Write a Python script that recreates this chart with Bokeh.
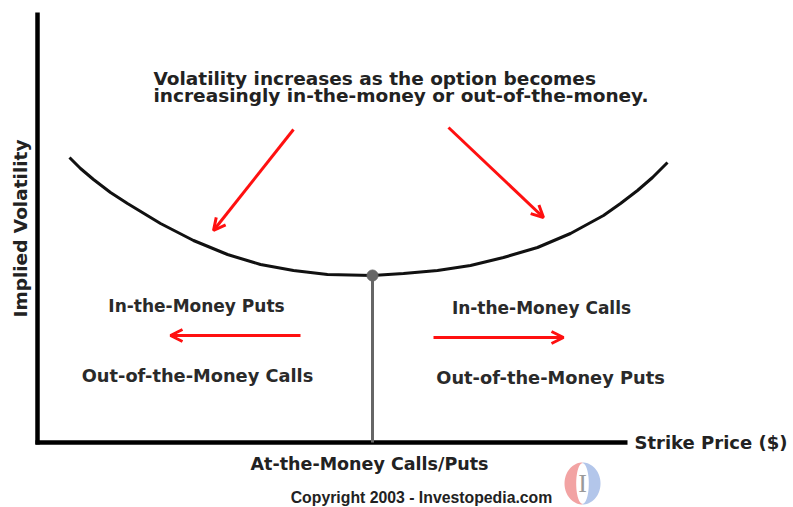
import numpy as np
from bokeh.plotting import figure
from bokeh.models import Range1d, ColumnDataSource, Arrow, OpenHead
from bokeh.core.properties import value
from bokeh.embed import file_html
from bokeh.resources import INLINE

# ---- data (strike offset from axis origin, implied volatility units) ----
smile_strike = [32, 43, 56, 73, 90, 123, 156, 190, 223, 256, 290, 335,
                366, 400, 433, 466, 500, 533, 566, 583, 600, 615, 630]
smile_vol = [285, 274, 263, 250, 239, 219, 202, 188, 178, 172, 168, 167,
             169, 172, 177, 185, 195, 209, 227, 239, 252, 265, 280]

atm_strike = [335]
atm_vol = [167]

axis_x_end = 590
axis_y_end = 430

arrow_x0 = [256, 411, 263, 396]
arrow_y0 = [313, 315, 107, 105]
arrow_x1 = [176, 506, 133, 526]
arrow_y1 = [212, 225, 107, 105]

note_lines = ["Volatility increases as the option becomes",
              "increasingly in-the-money or out-of-the-money."]
note_x = [116, 116]
note_y = [364, 347]

itm_labels = ["In-the-Money Puts", "In-the-Money Calls"]
itm_x = [159, 504]
itm_y = [137, 135]

otm_labels = ["Out-of-the-Money Calls", "Out-of-the-Money Puts"]
otm_x = [160, 513]
otm_y = [67, 65]

x_title = "Strike Price ($)"
y_title = "Implied Volatility"
atm_label = "At-the-Money Calls/Puts"
copyright_text = "Copyright 2003 - Investopedia.com"

logo_cx, logo_cy, logo_rx, logo_ry = 545, -41, 18, 21

# ---- figure ----
p = figure(width=793, height=507, output_backend="svg", toolbar_location=None,
           x_range=Range1d(-37, 756), y_range=Range1d(-65, 442),
           min_border=0, background_fill_color="white", border_fill_color="white")
p.xaxis.visible = False
p.yaxis.visible = False
p.xgrid.visible = False
p.ygrid.visible = False
p.outline_line_color = None

# axes
p.line([0, 0], [-2, axis_y_end], line_color="black", line_width=4.5)
p.line([-2, axis_x_end], [0, 0], line_color="black", line_width=4.5)

# ATM line
p.line([atm_strike[0], atm_strike[0]], [0, atm_vol[0]], line_color="#666666", line_width=3)

# smile
p.line(smile_strike, smile_vol, line_color="#111111", line_width=3, line_join="round")
p.scatter(atm_strike, atm_vol, size=11, fill_color="#666666", line_color="#666666")

# arrows
asrc = ColumnDataSource(dict(x0=arrow_x0, y0=arrow_y0, x1=arrow_x1, y1=arrow_y1))
p.add_layout(Arrow(source=asrc, x_start="x0", y_start="y0", x_end="x1", y_end="y1",
                   line_color="#ff1010", line_width=3,
                   end=OpenHead(size=12, line_color="#ff1010", line_width=3)))

font = value("DejaVu Sans")

p.text(note_x, note_y, text=note_lines, text_font=font, text_font_style="bold",
       text_font_size="18.5px", text_color="#222222", text_align="left", text_baseline="middle")

p.text(itm_x, itm_y, text=itm_labels, text_font=font, text_font_style="bold",
       text_font_size="17px", text_color="#2a2a2a", text_align="center", text_baseline="middle")

p.text(otm_x, otm_y, text=otm_labels, text_font=font, text_font_style="bold",
       text_font_size="17.8px", text_color="#2a2a2a", text_align="center", text_baseline="middle")

p.text([597], [0], text=[x_title], text_font=font, text_font_style="bold",
       text_font_size="18px", text_color="#222222", text_align="left", text_baseline="middle")

p.text([-17], [214], text=[y_title], angle=np.pi / 2, text_font=font, text_font_style="bold",
       text_font_size="18.5px", text_color="#222222", text_align="center", text_baseline="middle")

p.text([atm_strike[0] - 3], [-21], text=[atm_label], text_font=font, text_font_style="bold",
       text_font_size="17.5px", text_color="#222222", text_align="center", text_baseline="middle")

p.text([384], [-55], text=[copyright_text], text_font=value("Liberation Sans"), text_font_style="bold",
       text_font_size="15.8px", text_color="#222222", text_align="center", text_baseline="middle")

# logo
t_out = np.linspace(np.pi / 2, 3 * np.pi / 2, 40)
t_in = t_out[::-1]
lx = np.concatenate([logo_cx + logo_rx * np.cos(t_out), logo_cx + 0.35 * logo_rx * np.cos(t_in)])
ly = np.concatenate([logo_cy + logo_ry * np.sin(t_out), logo_cy + logo_ry * 0.97 * np.sin(t_in)])
rx = 2 * logo_cx - lx
p.patch(lx, ly, fill_color="#f2a3a3", line_color=None)
p.patch(rx, ly, fill_color="#b3c6ea", line_color=None)
p.text([logo_cx], [logo_cy], text=["I"], text_font=value("Liberation Serif"),
       text_font_size="26px", text_color="#9a9a9a", text_align="center", text_baseline="middle")

open("out.html", "w").write(file_html(p, INLINE))
